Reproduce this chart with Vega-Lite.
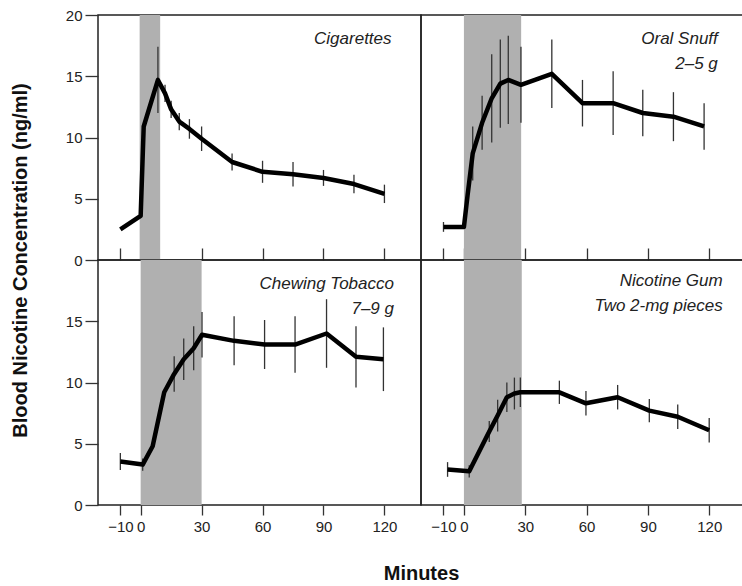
{
  "$schema": "https://vega.github.io/schema/vega-lite/v6.json",
  "background": "white",
  "padding": {"left": 9, "top": 7, "right": 0, "bottom": 0},
  "datasets": {
    "pts": [
      {"panel": "C", "t": -10, "v": 2.5, "e": 0},
      {"panel": "C", "t": 0, "v": 3.6, "e": 0},
      {"panel": "C", "t": 1.5, "v": 10.9, "e": 0},
      {"panel": "C", "t": 8.5, "v": 14.7, "e": 2.7},
      {"panel": "C", "t": 12, "v": 13.6, "e": 0.7},
      {"panel": "C", "t": 15, "v": 12.3, "e": 0.7},
      {"panel": "C", "t": 19, "v": 11.3, "e": 0.7},
      {"panel": "C", "t": 24, "v": 10.7, "e": 0.8},
      {"panel": "C", "t": 30, "v": 9.9, "e": 1.0},
      {"panel": "C", "t": 45, "v": 8.0, "e": 0.7},
      {"panel": "C", "t": 60, "v": 7.2, "e": 0.9},
      {"panel": "C", "t": 75, "v": 7.0, "e": 1.0},
      {"panel": "C", "t": 90, "v": 6.7, "e": 0.65},
      {"panel": "C", "t": 105, "v": 6.2, "e": 0.75},
      {"panel": "C", "t": 120, "v": 5.4, "e": 0.75},
      {"panel": "S", "t": -10, "v": 2.7, "e": 0.4},
      {"panel": "S", "t": 0, "v": 2.7, "e": 0},
      {"panel": "S", "t": 1.8, "v": 5.3, "e": 0},
      {"panel": "S", "t": 4.3, "v": 8.7, "e": 2.2},
      {"panel": "S", "t": 8.9, "v": 11.2, "e": 2.2},
      {"panel": "S", "t": 13.6, "v": 13.2, "e": 3.6},
      {"panel": "S", "t": 17.8, "v": 14.4, "e": 3.6},
      {"panel": "S", "t": 21.7, "v": 14.7, "e": 3.6},
      {"panel": "S", "t": 27.9, "v": 14.3, "e": 3.1},
      {"panel": "S", "t": 43, "v": 15.2, "e": 2.8},
      {"panel": "S", "t": 58, "v": 12.8, "e": 1.9},
      {"panel": "S", "t": 73, "v": 12.8, "e": 2.6},
      {"panel": "S", "t": 87.5, "v": 12.0, "e": 1.9},
      {"panel": "S", "t": 102.5, "v": 11.7, "e": 2.0},
      {"panel": "S", "t": 117.5, "v": 10.9, "e": 1.9},
      {"panel": "T", "t": -10, "v": 3.55, "e": 0.7},
      {"panel": "T", "t": 1, "v": 3.3, "e": 0.5},
      {"panel": "T", "t": 5.9, "v": 4.8, "e": 0},
      {"panel": "T", "t": 11.6, "v": 9.2, "e": 0},
      {"panel": "T", "t": 16.5, "v": 10.7, "e": 1.45},
      {"panel": "T", "t": 21.2, "v": 11.9, "e": 1.7},
      {"panel": "T", "t": 26.1, "v": 12.8, "e": 1.8},
      {"panel": "T", "t": 30.2, "v": 13.9, "e": 1.85},
      {"panel": "T", "t": 46, "v": 13.4, "e": 2.0},
      {"panel": "T", "t": 61, "v": 13.1, "e": 2.0},
      {"panel": "T", "t": 76, "v": 13.1, "e": 2.3},
      {"panel": "T", "t": 91.5, "v": 14.0, "e": 2.8},
      {"panel": "T", "t": 106, "v": 12.1, "e": 2.5},
      {"panel": "T", "t": 119.5, "v": 11.9, "e": 2.6},
      {"panel": "G", "t": -8, "v": 2.9, "e": 0.6},
      {"panel": "G", "t": 2.6, "v": 2.75, "e": 0.5},
      {"panel": "G", "t": 12.4, "v": 6.0, "e": 0.85},
      {"panel": "G", "t": 16.5, "v": 7.3, "e": 1.3},
      {"panel": "G", "t": 21, "v": 8.8, "e": 1.2},
      {"panel": "G", "t": 24.7, "v": 9.1, "e": 1.3},
      {"panel": "G", "t": 27.6, "v": 9.2, "e": 1.2},
      {"panel": "G", "t": 46.7, "v": 9.2, "e": 0.95},
      {"panel": "G", "t": 59.7, "v": 8.3, "e": 1.0},
      {"panel": "G", "t": 75.2, "v": 8.8, "e": 1.0},
      {"panel": "G", "t": 90.7, "v": 7.7, "e": 0.95},
      {"panel": "G", "t": 104.6, "v": 7.2, "e": 1.0},
      {"panel": "G", "t": 120, "v": 6.1, "e": 1.0}
    ],
    "shade": [
      {"panel": "C", "t0": -0.5, "t1": 9.6},
      {"panel": "S", "t0": 0, "t1": 28},
      {"panel": "T", "t0": 0, "t1": 30},
      {"panel": "G", "t0": 0, "t1": 28.3}
    ]
  },
  "columns": 2,
  "spacing": 0,
  "bounds": "flush",
  "align": "each",
  "concat": [
    {
      "width": 323,
      "height": 245,
      "layer": [
        {
          "data": {"name": "shade"},
          "transform": [{"filter": "datum.panel === 'C'"}],
          "mark": {"type": "rect", "color": "#b0b0b0"},
          "encoding": {
            "x": {"field": "t0", "type": "quantitative", "title": null, "scale": {"domain": [-21, 138], "nice": false, "zero": false}},
            "x2": {"field": "t1"}
          }
        },
        {
          "data": {"name": "pts"},
          "transform": [{"filter": "datum.panel === 'C'"}],
          "mark": {"type": "errorbar", "color": "#333", "thickness": 1.3},
          "encoding": {
            "x": {"field": "t", "type": "quantitative", "title": null},
            "y": {"field": "v", "type": "quantitative", "title": "Blood Nicotine Concentration (ng/ml)"},
            "yError": {"field": "e"}
          }
        },
        {
          "data": {"name": "pts"},
          "transform": [{"filter": "datum.panel === 'C'"}],
          "mark": {"type": "line", "color": "#000", "strokeWidth": 4.5, "strokeJoin": "round"},
          "encoding": {
            "x": {"field": "t", "type": "quantitative", "title": null, "scale": {"domain": [-21, 138], "nice": false, "zero": false}, "axis": {"values": [-10, 0, 30, 60, 90, 120], "labels": false, "tickSize": -12, "domain": false, "grid": false, "tickColor": "#333", "tickWidth": 1.3}},
            "y": {"field": "v", "type": "quantitative", "scale": {"domain": [0, 20], "nice": false}, "title": "Blood Nicotine Concentration (ng/ml)", "axis": {"values": [0, 5, 10, 15, 20], "tickSize": 13, "labelPadding": 3, "domain": false, "grid": false, "tickColor": "#333", "tickWidth": 1.3, "labelFont": "Liberation Sans", "labelFontSize": 15, "labelColor": "#222", "titleX": -72, "titleY": 245, "titleAngle": 270, "titleAlign": "center", "titleBaseline": "alphabetic", "titleFont": "Liberation Sans", "titleFontSize": 20, "titleFontWeight": "bold", "titleColor": "#111"}}
          }
        },
        {
          "data": {"values": [{}]},
          "mark": {"type": "text", "align": "right", "baseline": "top", "font": "Liberation Sans", "fontSize": 17, "fontStyle": "italic", "color": "#222", "lineHeight": 25},
          "encoding": {
            "x": {"datum": 123.5, "type": "quantitative"},
            "y": {"datum": 18.7, "type": "quantitative"},
            "text": {"value": ["Cigarettes"]}
          }
        }
      ]
    },
    {
      "width": 325,
      "height": 245,
      "layer": [
        {
          "data": {"name": "shade"},
          "transform": [{"filter": "datum.panel === 'S'"}],
          "mark": {"type": "rect", "color": "#b0b0b0"},
          "encoding": {
            "x": {"field": "t0", "type": "quantitative", "title": null, "scale": {"domain": [-21, 138], "nice": false, "zero": false}},
            "x2": {"field": "t1"}
          }
        },
        {
          "data": {"name": "pts"},
          "transform": [{"filter": "datum.panel === 'S'"}],
          "mark": {"type": "errorbar", "color": "#333", "thickness": 1.3},
          "encoding": {
            "x": {"field": "t", "type": "quantitative", "title": null},
            "y": {"field": "v", "type": "quantitative", "title": null},
            "yError": {"field": "e"}
          }
        },
        {
          "data": {"name": "pts"},
          "transform": [{"filter": "datum.panel === 'S'"}],
          "mark": {"type": "line", "color": "#000", "strokeWidth": 4.5, "strokeJoin": "round"},
          "encoding": {
            "x": {"field": "t", "type": "quantitative", "title": null, "scale": {"domain": [-21, 138], "nice": false, "zero": false}, "axis": {"values": [-10, 0, 30, 60, 90, 120], "labels": false, "tickSize": -12, "domain": false, "grid": false, "tickColor": "#333", "tickWidth": 1.3}},
            "y": {"field": "v", "type": "quantitative", "title": null, "scale": {"domain": [0, 20], "nice": false}, "axis": null}
          }
        },
        {
          "data": {"values": [{}]},
          "mark": {"type": "text", "align": "right", "baseline": "top", "font": "Liberation Sans", "fontSize": 17, "fontStyle": "italic", "color": "#222", "lineHeight": 25},
          "encoding": {
            "x": {"datum": 124.2, "type": "quantitative"},
            "y": {"datum": 18.7, "type": "quantitative"},
            "text": {"value": ["Oral Snuff", "2–5 g"]}
          }
        }
      ]
    },
    {
      "width": 323,
      "height": 245,
      "layer": [
        {
          "data": {"name": "shade"},
          "transform": [{"filter": "datum.panel === 'T'"}],
          "mark": {"type": "rect", "color": "#b0b0b0"},
          "encoding": {
            "x": {"field": "t0", "type": "quantitative", "title": "Minutes", "scale": {"domain": [-21, 138], "nice": false, "zero": false}},
            "x2": {"field": "t1"}
          }
        },
        {
          "data": {"name": "pts"},
          "transform": [{"filter": "datum.panel === 'T'"}],
          "mark": {"type": "errorbar", "color": "#333", "thickness": 1.3},
          "encoding": {
            "x": {"field": "t", "type": "quantitative", "title": "Minutes"},
            "y": {"field": "v", "type": "quantitative", "title": null},
            "yError": {"field": "e"}
          }
        },
        {
          "data": {"name": "pts"},
          "transform": [{"filter": "datum.panel === 'T'"}],
          "mark": {"type": "line", "color": "#000", "strokeWidth": 4.5, "strokeJoin": "round"},
          "encoding": {
            "x": {"field": "t", "type": "quantitative", "title": "Minutes", "scale": {"domain": [-21, 138], "nice": false, "zero": false}, "axis": {"values": [-10, 0, 30, 60, 90, 120], "tickSize": 10, "labelPadding": 4, "domain": false, "grid": false, "tickColor": "#333", "tickWidth": 1.3, "labelFont": "Liberation Sans", "labelFontSize": 15, "labelColor": "#222", "titleX": 323, "titleY": 74, "titleAlign": "center", "titleBaseline": "alphabetic", "titleFont": "Liberation Sans", "titleFontSize": 20, "titleFontWeight": "bold", "titleColor": "#111"}},
            "y": {"field": "v", "type": "quantitative", "title": null, "scale": {"domain": [0, 20], "nice": false}, "axis": {"values": [0, 5, 10, 15], "tickSize": 13, "labelPadding": 3, "domain": false, "grid": false, "tickColor": "#333", "tickWidth": 1.3, "labelFont": "Liberation Sans", "labelFontSize": 15, "labelColor": "#222"}}
          }
        },
        {
          "data": {"values": [{}]},
          "mark": {"type": "text", "align": "right", "baseline": "top", "font": "Liberation Sans", "fontSize": 17, "fontStyle": "italic", "color": "#222", "lineHeight": 25},
          "encoding": {
            "x": {"datum": 124.7, "type": "quantitative", "title": "Minutes"},
            "y": {"datum": 18.7, "type": "quantitative", "title": null},
            "text": {"value": ["Chewing Tobacco", "7–9 g"]}
          }
        }
      ]
    },
    {
      "width": 325,
      "height": 245,
      "layer": [
        {
          "data": {"name": "shade"},
          "transform": [{"filter": "datum.panel === 'G'"}],
          "mark": {"type": "rect", "color": "#b0b0b0"},
          "encoding": {
            "x": {"field": "t0", "type": "quantitative", "title": null, "scale": {"domain": [-21, 138], "nice": false, "zero": false}},
            "x2": {"field": "t1"}
          }
        },
        {
          "data": {"name": "pts"},
          "transform": [{"filter": "datum.panel === 'G'"}],
          "mark": {"type": "errorbar", "color": "#333", "thickness": 1.3},
          "encoding": {
            "x": {"field": "t", "type": "quantitative", "title": null},
            "y": {"field": "v", "type": "quantitative", "title": null},
            "yError": {"field": "e"}
          }
        },
        {
          "data": {"name": "pts"},
          "transform": [{"filter": "datum.panel === 'G'"}],
          "mark": {"type": "line", "color": "#000", "strokeWidth": 4.5, "strokeJoin": "round"},
          "encoding": {
            "x": {"field": "t", "type": "quantitative", "title": null, "scale": {"domain": [-21, 138], "nice": false, "zero": false}, "axis": {"values": [-10, 0, 30, 60, 90, 120], "tickSize": 10, "labelPadding": 4, "domain": false, "grid": false, "tickColor": "#333", "tickWidth": 1.3, "labelFont": "Liberation Sans", "labelFontSize": 15, "labelColor": "#222"}},
            "y": {"field": "v", "type": "quantitative", "title": null, "scale": {"domain": [0, 20], "nice": false}, "axis": null}
          }
        },
        {
          "data": {"values": [{}]},
          "mark": {"type": "text", "align": "right", "baseline": "top", "font": "Liberation Sans", "fontSize": 17, "fontStyle": "italic", "color": "#222", "lineHeight": 25},
          "encoding": {
            "x": {"datum": 126.6, "type": "quantitative"},
            "y": {"datum": 18.9, "type": "quantitative"},
            "text": {"value": ["Nicotine Gum", "Two 2-mg pieces"]}
          }
        }
      ]
    }
  ],
  "config": {
    "view": {"stroke": "#222", "strokeWidth": 1.5},
    "axis": {"grid": false}
  }
}
